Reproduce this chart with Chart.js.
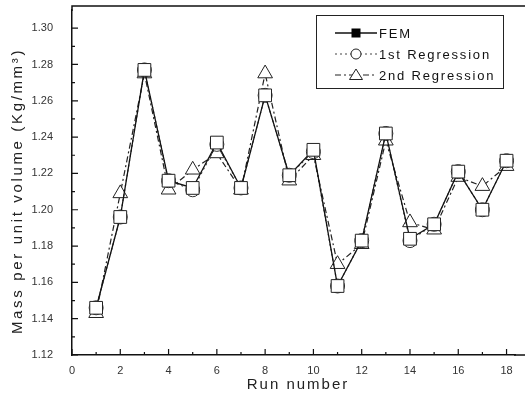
<!DOCTYPE html>
<html>
<head>
<meta charset="utf-8">
<script src="https://cdn.jsdelivr.net/npm/chart.js@4/dist/chart.umd.min.js"></script>
<style>
html,body{margin:0;padding:0;background:#fff;overflow:hidden}
</style>
</head>
<body>
<canvas id="myChart" width="525" height="406"></canvas>
<script>
// data
const runs = [1,2,3,4,5,6,7,8,9,10,11,12,13,14,15,16,17,18];
const fem  = [1.146,1.196,1.277,1.216,1.212,1.237,1.212,1.263,1.219,1.233,1.158,1.183,1.242,1.184,1.192,1.221,1.200,1.227];
const reg1 = [1.146,1.196,1.277,1.216,1.211,1.236,1.212,1.263,1.219,1.232,1.158,1.183,1.242,1.183,1.192,1.221,1.200,1.227];
const reg2 = [1.143,1.209,1.275,1.211,1.222,1.231,1.211,1.275,1.216,1.230,1.170,1.181,1.238,1.193,1.189,1.218,1.213,1.224];
const xTicks = [0,2,4,6,8,10,12,14,16,18];
const yTicks = [1.12,1.14,1.16,1.18,1.20,1.22,1.24,1.26,1.28,1.30];
const seriesNames = ['FEM','1st Regression','2nd Regression'];

const FONT = '"Liberation Sans", Arial, sans-serif';

function pts(arr){ return runs.map((r,i)=>({x:r,y:arr[i]})); }

// frame, inward ticks, axis titles and the boxed legend
const extras = {
  id: 'extras',
  afterDraw(chart){
    const ctx = chart.ctx, a = chart.chartArea;
    const xs = chart.scales.x, ys = chart.scales.y;
    const frameTop = 6;
    ctx.save();
    ctx.strokeStyle = '#111';
    ctx.lineWidth = 1.5;
    ctx.beginPath();
    ctx.moveTo(a.left, a.top + 1); ctx.lineTo(a.left, frameTop);
    ctx.lineTo(chart.width, frameTop);
    ctx.moveTo(a.right - 1, a.bottom); ctx.lineTo(chart.width, a.bottom);
    ctx.stroke();

    ctx.lineWidth = 1.2;
    ctx.beginPath();
    xTicks.forEach((v,i)=>{
      const px = xs.getPixelForValue(v);
      ctx.moveTo(px, a.bottom); ctx.lineTo(px, a.bottom - 6);
      const mid = xs.getPixelForValue(v + 1);
      ctx.moveTo(mid, a.bottom); ctx.lineTo(mid, a.bottom - 3);
    });
    yTicks.forEach((v,i)=>{
      const py = ys.getPixelForValue(v);
      ctx.moveTo(a.left, py); ctx.lineTo(a.left + 6, py);
      if (i < yTicks.length - 1) {
        const mid = ys.getPixelForValue((v + yTicks[i+1]) / 2);
        ctx.moveTo(a.left, mid); ctx.lineTo(a.left + 3, mid);
      }
    });
    ctx.stroke();

    // axis titles
    ctx.fillStyle = '#222';
    ctx.font = '15px ' + FONT;
    ctx.textAlign = 'center';
    ctx.textBaseline = 'middle';
    ctx.letterSpacing = '2px';
    ctx.fillText('Run number', 298, 385);
    ctx.save();
    ctx.letterSpacing = '2.65px';
    ctx.translate(18, 191);
    ctx.rotate(-Math.PI / 2);
    ctx.fillText('Mass per unit volume (Kg/mm\u00B3)', 0, 0);
    ctx.restore();

    // legend box
    const bx = 316, by = 15, bw = 187, bh = 73;
    ctx.fillStyle = '#fff';
    ctx.fillRect(bx, by, bw, bh);
    ctx.lineWidth = 1;
    ctx.strokeStyle = '#222';
    ctx.strokeRect(bx + 0.5, by + 0.5, bw, bh);
    const dsets = chart.data.datasets;
    dsets.forEach((ds,i)=>{
      const y = by + 18 + i * 21;
      const x0 = bx + 19, x1 = bx + 61, xm = (x0 + x1) / 2;
      ctx.setLineDash(ds.borderDash || []);
      ctx.lineWidth = ds.borderWidth;
      ctx.strokeStyle = ds.borderColor;
      ctx.beginPath(); ctx.moveTo(x0, y); ctx.lineTo(x1, y); ctx.stroke();
      ctx.setLineDash([]);
      ctx.lineWidth = 1;
      ctx.strokeStyle = '#222';
      ctx.beginPath();
      if (i === 0) {
        ctx.fillStyle = '#000';
        ctx.fillRect(xm - 4.5, y - 4.5, 9, 9);
      } else if (i === 1) {
        ctx.fillStyle = '#fff';
        ctx.arc(xm, y, 5, 0, Math.PI * 2);
        ctx.fill(); ctx.stroke();
      } else {
        ctx.fillStyle = '#fff';
        ctx.moveTo(xm, y - 6); ctx.lineTo(xm + 6.5, y + 4.5); ctx.lineTo(xm - 6.5, y + 4.5); ctx.closePath();
        ctx.fill(); ctx.stroke();
      }
      ctx.fillStyle = '#111';
      ctx.font = '13px ' + FONT;
      ctx.letterSpacing = '1.8px';
      ctx.textAlign = 'left';
      ctx.textBaseline = 'middle';
      ctx.fillText(seriesNames[i], x1 + 2, y + 1);
    });
    ctx.restore();
  }
};

const ctx = document.getElementById('myChart');
const myChart = new Chart(ctx, {
  type: 'line',
  data: {
    datasets: [{
      label: seriesNames[0],
      data: pts(fem),
      borderColor: '#111',
      borderWidth: 1.3,
      pointStyle: 'rect',
      pointRadius: 9,
      pointBorderWidth: 1,
      pointBorderColor: '#222',
      pointBackgroundColor: '#fff'
    }, {
      label: seriesNames[1],
      data: pts(reg1),
      borderColor: '#444',
      borderWidth: 1.2,
      borderDash: [2, 3],
      pointStyle: 'circle',
      pointRadius: 7,
      pointBorderWidth: 1,
      pointBorderColor: '#333',
      pointBackgroundColor: '#fff'
    }, {
      label: seriesNames[2],
      data: pts(reg2),
      borderColor: '#222',
      borderWidth: 1.2,
      borderDash: [6, 3, 2, 3],
      pointStyle: 'triangle',
      pointRadius: 8.5,
      pointBorderWidth: 1,
      pointBorderColor: '#222',
      pointBackgroundColor: '#fff'
    }]
  },
  options: {
    responsive: false,
    animation: false,
    layout: { padding: { left: 0, top: 2, right: 0, bottom: 0 } },
    plugins: { legend: { display: false }, tooltip: { enabled: false } },
    elements: { line: { tension: 0 } },
    scales: {
      x: {
        type: 'linear',
        min: 0,
        max: 18.35,
        afterFit(s){ s.height = 51; s.paddingLeft = 0; s.paddingRight = 0; },
        afterBuildTicks(s){ s.ticks = xTicks.map(v=>({value:v})); },
        grid: { drawOnChartArea: false, drawTicks: false },
        border: { display: true, color: '#111', width: 1.5 },
        ticks: {
          autoSkip: false,
          maxRotation: 0,
          padding: 9,
          color: '#333',
          font: { family: FONT, size: 11 },
          callback: v => String(v)
        }
      },
      y: {
        type: 'linear',
        min: 1.12,
        max: 1.310,
        afterFit(s){ s.width = 72; s.paddingTop = 0; s.paddingBottom = 0; },
        afterBuildTicks(s){ s.ticks = yTicks.map(v=>({value:v})); },
        grid: { drawOnChartArea: false, drawTicks: false },
        border: { display: true, color: '#111', width: 1.5 },
        ticks: {
          autoSkip: false,
          padding: 19,
          color: '#333',
          font: { family: FONT, size: 11 },
          callback: v => v.toFixed(2)
        }
      }
    }
  },
  plugins: [extras]
});
</script>
</body>
</html>
